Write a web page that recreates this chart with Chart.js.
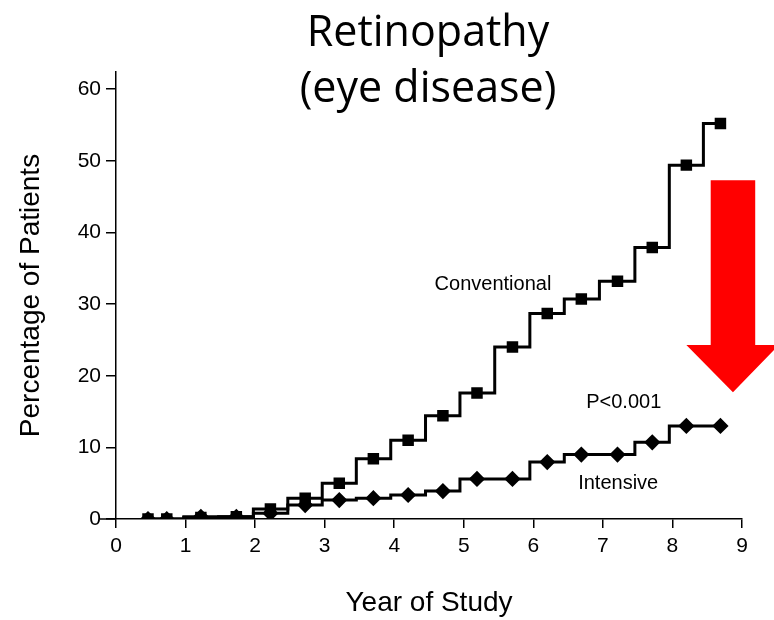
<!DOCTYPE html>
<html>
<head>
<meta charset="utf-8">
<script src="https://cdn.jsdelivr.net/npm/chart.js@4.4.0/dist/chart.umd.min.js"></script>
<style>
  html, body { margin: 0; padding: 0; background: #fff; }
  #wrap { width: 774px; height: 620px; }
</style>
</head>
<body>
<div id="wrap"><canvas id="retino"></canvas></div>
<script>
// years of study at each visit (both groups share the same visits)
var years = [0.46, 0.73, 1.22, 1.73, 2.22, 2.72, 3.21, 3.70, 4.20, 4.70, 5.19, 5.70, 6.20, 6.69, 7.21, 7.71, 8.20, 8.69];
// cumulative percentage of patients with retinopathy progression
var conventional = [0, 0, 0.2, 0.3, 1.4, 2.9, 5.0, 8.4, 11.0, 14.4, 17.6, 24.0, 28.7, 30.7, 33.2, 37.9, 49.4, 55.2];
var intensive = [0, 0, 0.3, 0.3, 0.8, 1.95, 2.65, 2.9, 3.35, 3.9, 5.6, 5.6, 7.95, 9.0, 9.0, 10.7, 13.0, 13.0];
var xTicks = [0, 1, 2, 3, 4, 5, 6, 7, 8, 9];
var yTicks = [0, 10, 20, 30, 40, 50, 60];

var FONT = "'Liberation Sans', Arial, sans-serif";

function pts(vals) {
    return years.map(function (x, i) { return { x: x, y: vals[i] }; });
}

// titles, curve labels and the red arrow
var extras = {
    id: 'extras',
    afterDraw: function (chart) {
        var ctx = chart.ctx, xs = chart.scales.x, ys = chart.scales.y;
        ctx.save();

        // x axis runs a little left of the y axis
        ctx.strokeStyle = '#000';
        ctx.lineWidth = 1.5;
        ctx.beginPath();
        ctx.moveTo(xs.left - 16, ys.getPixelForValue(0));
        ctx.lineTo(xs.left, ys.getPixelForValue(0));
        ctx.stroke();

        ctx.fillStyle = '#000';
        ctx.textAlign = 'center';
        ctx.textBaseline = 'alphabetic';
        ctx.font = "43px 'Open Sans', sans-serif";
        ctx.fillText('Retinopathy', 428, 46);
        ctx.fillText('(eye disease)', 428, 102);

        ctx.textBaseline = 'middle';
        ctx.font = '20px ' + FONT;
        ctx.fillText('Conventional', xs.getPixelForValue(5.42), ys.getPixelForValue(32.8));
        ctx.fillText('P<0.001', xs.getPixelForValue(7.3), ys.getPixelForValue(16.3));
        ctx.fillText('Intensive', xs.getPixelForValue(7.22), ys.getPixelForValue(4.9));

        // red arrow
        var X = function (v) { return xs.getPixelForValue(v); };
        var Y = function (v) { return ys.getPixelForValue(v); };
        ctx.fillStyle = '#ff0000';
        ctx.beginPath();
        ctx.moveTo(X(8.55), Y(47.3));
        ctx.lineTo(X(9.19), Y(47.3));
        ctx.lineTo(X(9.19), Y(24.3));
        ctx.lineTo(X(9.53), Y(24.3));
        ctx.lineTo(X(8.87), Y(17.7));
        ctx.lineTo(X(8.2), Y(24.3));
        ctx.lineTo(X(8.55), Y(24.3));
        ctx.closePath();
        ctx.fill();
        ctx.restore();
    }
};

var chart = new Chart(document.getElementById('retino'), {
    type: 'line',
    data: {
        datasets: [{
            label: 'Conventional',
            data: pts(conventional),
            stepped: 'middle',
            borderColor: '#000',
            backgroundColor: '#000',
            borderWidth: 3,
            pointStyle: 'rect',
            pointRadius: 6,
            fill: false
        }, {
            label: 'Intensive',
            data: pts(intensive),
            stepped: 'middle',
            borderColor: '#000',
            backgroundColor: '#000',
            borderWidth: 3,
            pointStyle: 'rectRot',
            pointRadius: 6,
            fill: false
        }]
    },
    options: {
        responsive: true,
        maintainAspectRatio: false,
        animation: false,
        layout: { padding: { left: 0, right: 32, top: 72, bottom: 0 } },
        plugins: {
            legend: { display: false },
            tooltip: { enabled: false }
        },
        scales: {
            x: {
                type: 'linear',
                min: 0,
                max: 9,
                afterBuildTicks: function (s) { s.ticks = xTicks.map(function (v) { return { value: v }; }); },
                afterFit: function (s) { s.height = 101; },
                ticks: { color: '#000', font: { size: 21, family: FONT }, padding: 6 },
                grid: { drawOnChartArea: false, drawTicks: true, tickLength: 9, color: '#000', lineWidth: 1.5 },
                border: { display: true, color: '#000', width: 1.5 },
                title: { display: true, text: 'Year of Study', color: '#000', font: { size: 28, family: FONT }, padding: { top: 0, bottom: 0 } }
            },
            y: {
                min: 0,
                max: 62.4,
                afterBuildTicks: function (s) { s.ticks = yTicks.map(function (v) { return { value: v }; }); },
                afterFit: function (s) { s.width = 116; },
                ticks: { color: '#000', font: { size: 21, family: FONT }, padding: 5 },
                grid: { drawOnChartArea: false, drawTicks: true, tickLength: 10, color: '#000', lineWidth: 1.5 },
                border: { display: true, color: '#000', width: 1.5 },
                title: { display: true, text: 'Percentage of Patients', color: '#000', font: { size: 28, family: FONT }, padding: { top: 14, bottom: 0 } }
            }
        }
    },
    plugins: [extras]
});
</script>
</body>
</html>
